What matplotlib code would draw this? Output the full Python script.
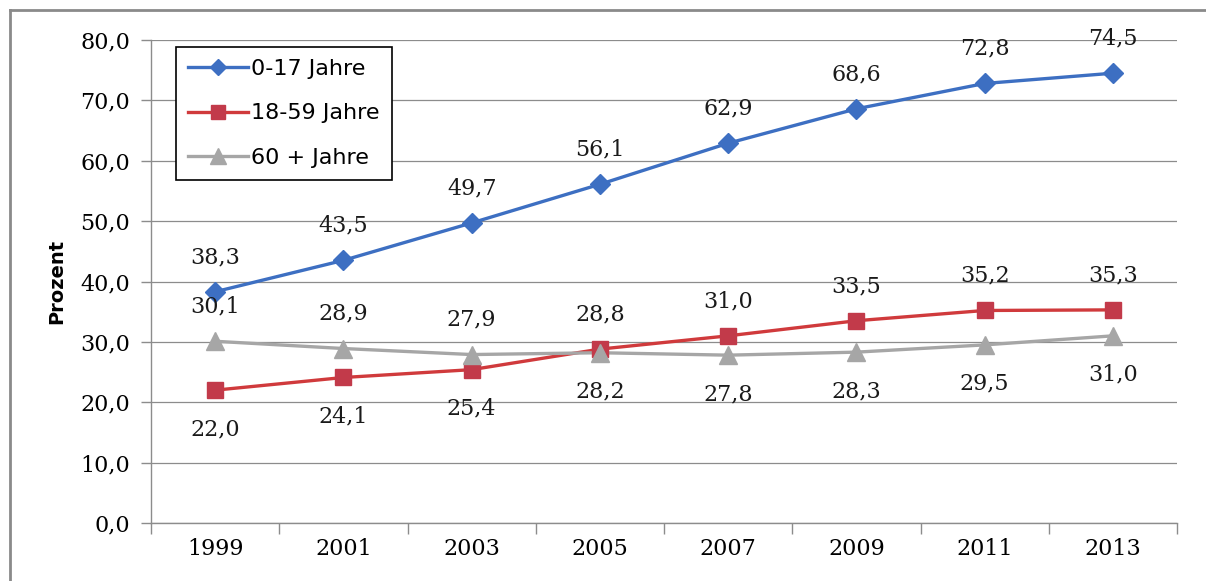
import matplotlib
matplotlib.use('Agg')
import matplotlib.pyplot as plt
from matplotlib.lines import Line2D
import numpy as np

##########################################################################
# Data
#-------------------------------------------------------------------------
years   = ['1999', '2001', '2003', '2005', '2007', '2009', '2011', '2013']
jung    = [38.3, 43.5, 49.7, 56.1, 62.9, 68.6, 72.8, 74.5]
mittel  = [22.0, 24.1, 25.4, 28.8, 31.0, 33.5, 35.2, 35.3]
alt     = [30.1, 28.9, 27.9, 28.2, 27.8, 28.3, 29.5, 31.0]
legnd   = ['0-17 Jahre', '18-59 Jahre', '60 + Jahre']
yn      = 'Prozent'

# label placement: +1 above, -1 below
pos_jung   = [1, 1, 1, 1, 1, 1, 1, 1]
pos_mittel = [-1, -1, -1, 1, 1, 1, 1, 1]
pos_alt    = [1, 1, 1, -1, -1, -1, -1, -1]

##########################################################################
# Style
#-------------------------------------------------------------------------
c_blue = '#3d6fc2'
c_red  = '#d03a3c'
c_mred = '#c23a4a'
c_gray = '#a6a6a6'
c_grid = '#8c8c8c'
numfont = 'DejaVu Serif'
fs = 16

w, h = 12.06, 5.81
lw = 2.4

##########################################################################
# Helpers
#-------------------------------------------------------------------------
def draw_series(ax, vals, col, mcol, mk, ms, where):
    xs = np.arange(len(vals))
    ax.plot(xs, vals, color=col, linewidth=lw, zorder=3)
    ax.plot(xs, vals, linestyle='none', marker=mk, markersize=ms,
            color=mcol, markeredgecolor=mcol, zorder=4)
    for x, v, p in zip(xs, vals, where):
        off = 25 if p > 0 else -28
        ax.annotate(f'{v:.1f}'.replace('.', ','), (x, v),
                    xytext=(0, off), textcoords='offset points',
                    ha='center', va='center', fontsize=fs,
                    family=numfont, color='#1a1a1a', zorder=5)

##########################################################################
# Plotting
#-------------------------------------------------------------------------
figr = plt.figure(figsize=(w, h), dpi=100)
ax = figr.add_axes([151 / 1206, 1 - 523 / 581, 1026 / 1206, 483 / 581])

# outer frame (chart area border)
figr.add_artist(Line2D([10 / 1206, 10 / 1206], [-0.01, 1 - 10 / 581],
                       transform=figr.transFigure, color='#8a8a8a', lw=2))
figr.add_artist(Line2D([10 / 1206, 1.01], [1 - 10 / 581, 1 - 10 / 581],
                       transform=figr.transFigure, color='#8a8a8a', lw=2))

draw_series(ax, jung, c_blue, c_blue, 'D', 10, pos_jung)
draw_series(ax, mittel, c_red, c_mred, 's', 12, pos_mittel)
draw_series(ax, alt, c_gray, c_gray, '^', 13, pos_alt)

ax.set_xlim(-0.5, len(years) - 0.5)
ax.set_ylim(0, 80)
ax.set_yticks(np.arange(0, 81, 10))
ax.set_yticklabels([f'{v:.1f}'.replace('.', ',') for v in np.arange(0, 81, 10)],
                   family=numfont, fontsize=fs)
ax.set_xticks(np.arange(-0.5, len(years), 1.0))
ax.set_xticklabels([])
ax.set_xticks(np.arange(len(years)), minor=True)
ax.set_xticklabels(years, minor=True, family=numfont, fontsize=fs)
ax.tick_params(axis='x', which='major', length=8, color=c_grid, width=1.0)
ax.tick_params(axis='x', which='minor', length=0, pad=11)
ax.tick_params(axis='y', length=7, color=c_grid, width=1.0, pad=8)

ax.grid(axis='y', color=c_grid, linewidth=0.9, zorder=0)
ax.set_axisbelow(True)
for s in ['top', 'right']:
    ax.spines[s].set_visible(False)
for s in ['left', 'bottom']:
    ax.spines[s].set_color(c_grid)
    ax.spines[s].set_linewidth(1.0)

ax.set_ylabel(yn, fontsize=14, fontweight='bold', labelpad=10)

#-------------------------------------------------------------------------
# Legend
#-------------------------------------------------------------------------
hdl = [Line2D([], [], color=c_blue, lw=lw, marker='D', ms=8),
       Line2D([], [], color=c_red, lw=lw, marker='s', ms=10,
              markerfacecolor=c_mred, markeredgecolor=c_mred),
       Line2D([], [], color=c_gray, lw=lw, marker='^', ms=11)]
leg = ax.legend(hdl, legnd, loc='upper left', bbox_to_anchor=(0.024, 0.986),
                fontsize=16, frameon=True, fancybox=False, handlelength=2.7,
                handletextpad=0.15, labelspacing=1.1, borderpad=0.55,
                borderaxespad=0)
leg.get_frame().set_edgecolor('black')
leg.get_frame().set_linewidth(1.2)
leg.get_frame().set_alpha(1)

##########################################################################
# Save
#-------------------------------------------------------------------------
figr.savefig('out.png', dpi=100)
